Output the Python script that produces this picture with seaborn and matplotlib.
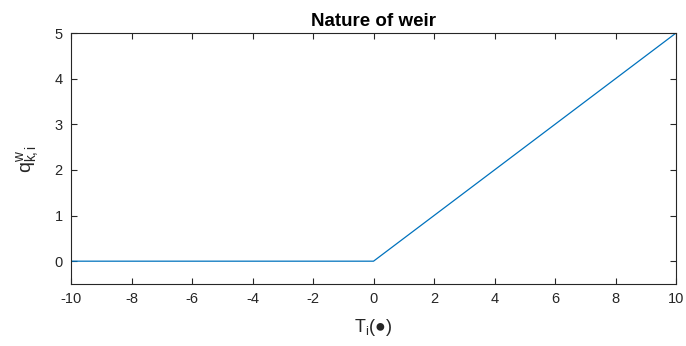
import matplotlib
matplotlib.use("Agg")
import matplotlib.pyplot as plt
import seaborn as sns
import pandas as pd

# Piecewise-linear weir characteristic
temperature = [-10, 0, 10]
flow = [0, 0, 5]
x_ticks = [-10, -8, -6, -4, -2, 0, 2, 4, 6, 8, 10]
y_ticks = [0, 1, 2, 3, 4, 5]

sns.set_theme(style="white")
plt.rcParams["font.family"] = ["Liberation Sans", "DejaVu Sans"]
plt.rcParams["mathtext.fontset"] = "custom"
plt.rcParams["mathtext.rm"] = "Liberation Sans"
plt.rcParams["mathtext.it"] = "Liberation Sans"
plt.rcParams["axes.unicode_minus"] = False

df = pd.DataFrame({"T": temperature, "q": flow})

fig = plt.figure(figsize=(6.86, 3.46), dpi=100)
ax = fig.add_axes([0.1035, 0.1792, 0.882, 0.7254])
sns.lineplot(data=df, x="T", y="q", ax=ax, color="#0072BD", linewidth=0.9)

ax.set_xlim(-10, 10)
ax.set_ylim(-0.5, 5)
ax.set_xticks(x_ticks)
ax.set_yticks(y_ticks)
ax.tick_params(direction="in", length=4, width=0.8, colors="#262626",
               labelsize=10.5, top=True, right=True, bottom=True, left=True,
               labeltop=False, labelright=False, pad=6)
for s in ax.spines.values():
    s.set_visible(True)
    s.set_color("#262626")
    s.set_linewidth(0.8)

ax.set_xlabel(r"T$_\mathregular{i}$(●)", fontsize=13, color="#262626", labelpad=8)
ax.set_ylabel(r"$\mathregular{q^{w}_{k,i}}$", fontsize=14, color="#262626", labelpad=10)
ax.set_title("Nature of weir", fontsize=13.5, fontweight="bold", color="#000000", pad=5)

fig.savefig("out.png", dpi=100)
